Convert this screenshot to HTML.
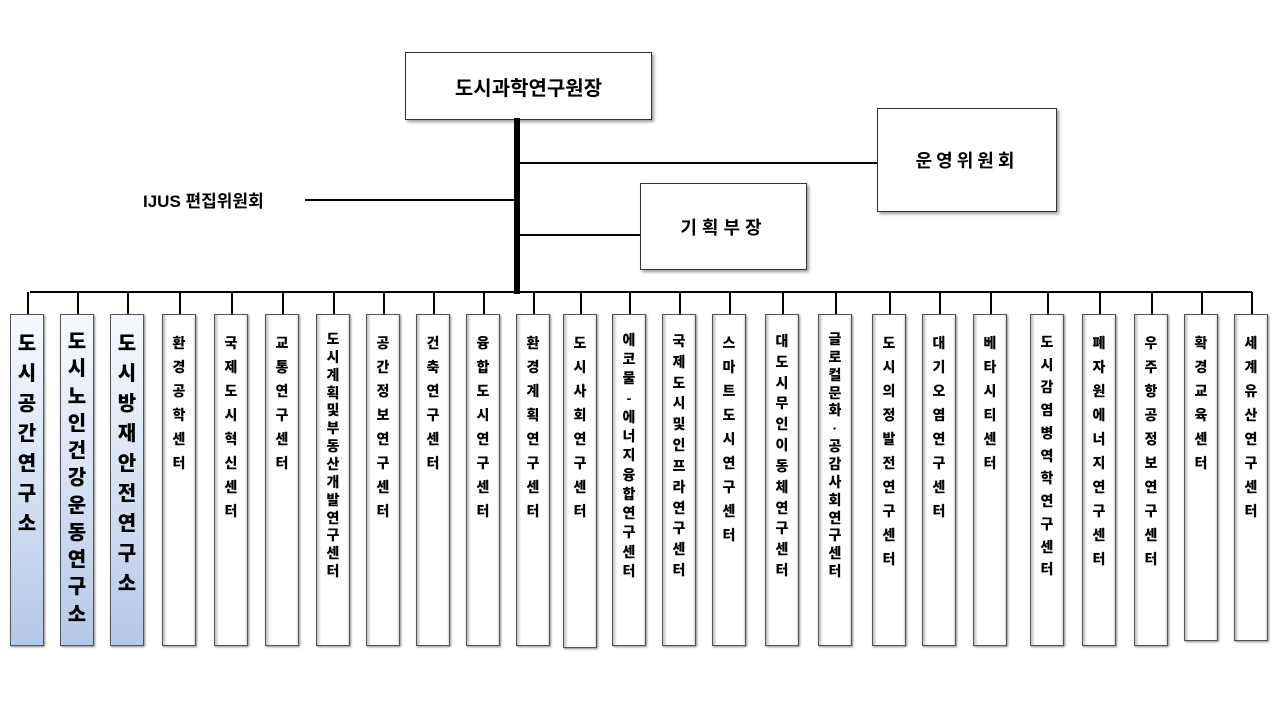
<!DOCTYPE html>
<html><head><meta charset="utf-8"><style>
body{margin:0;width:1280px;height:720px;background:#fff;position:relative;overflow:hidden;font-family:"Liberation Sans","Noto Sans CJK KR",sans-serif;}
.a{position:absolute;}
.l{position:absolute;background:#000;}
.top{position:absolute;border:1px solid #333;background:#fff;box-shadow:2px 2px 3px #999;display:flex;align-items:center;justify-content:center;font-weight:bold;color:#000;}
.b{position:absolute;top:314px;width:34px;border:1px solid #555;background:linear-gradient(90deg,#bbb 0,#fff 4px,#fff 30px,#aaa 34px);box-shadow:1px 1px 2px #888;text-align:center;font-weight:900;font-size:14px;color:#000;padding-top:16px;box-sizing:border-box;}
.b.blue{background:linear-gradient(180deg,#f6f9ff 0,#dde7f6 40%,#b4c8e8 100%);font-size:20px;padding-top:14px;}
</style></head><body>
<div class="top" style="left:405px;top:52px;width:245px;height:66px;font-size:20px;">도시과학연구원장</div>
<div class="top" style="left:877px;top:108px;width:178px;height:102px;font-size:18px;letter-spacing:4px;">운영위원회</div>
<div class="top" style="left:640px;top:183px;width:165px;height:85px;font-size:18px;letter-spacing:5px;">기획부장</div>
<div class="a" style="left:143px;top:187px;font-size:17px;font-weight:bold;">IJUS 편집위원회</div>
<div class="l" style="left:514px;top:118px;width:6px;height:176px;"></div>
<div class="l" style="left:517px;top:162px;width:360px;height:2px;"></div>
<div class="l" style="left:305px;top:199px;width:212px;height:2px;"></div>
<div class="l" style="left:517px;top:234px;width:123px;height:2px;"></div>
<div class="l" style="left:30px;top:291px;width:1222px;height:2px;"></div>
<div id="boxes"></div>
<script>
var d=[[10,"도시공간연구소",646,1],[60,"도시노인건강운동연구소",646,1],[110,"도시방재안전연구소",646,1],
[162,"환경공학센터",646],[214,"국제도시혁신센터",646],[265,"교통연구센터",646],[316,"도시계획및부동산개발연구센터",646],
[366,"공간정보연구센터",646],[416,"건축연구센터",646],[466,"융합도시연구센터",646],[516,"환경계획연구센터",646],
[563,"도시사회연구센터",648],[612,"에코물-에너지융합연구센터",646],[662,"국제도시및인프라연구센터",646],[712,"스마트도시연구센터",646],
[765,"대도시무인이동체연구센터",646],[818,"글로컬문화·공감사회연구센터",646],[872,"도시의정발전연구센터",646],[922,"대기오염연구센터",646],
[973,"베타시티센터",646],[1030,"도시감염병역학연구센터",646],[1082,"폐자원에너지연구센터",646],[1134,"우주항공정보연구센터",646],
[1184,"확경교육센터",641],[1234,"세계유산연구센터",641]];
var h="";
d.forEach(function(x){var n=x[1].length;var lh=x[3]?Math.min(30,300/n):Math.min(24,250/n);
h+='<div class="l" style="left:'+(x[0]+17)+'px;top:292px;width:2px;height:22px"></div>';
h+='<div class="b'+(x[3]?' blue':'')+'" style="left:'+x[0]+'px;height:'+(x[2]-314)+'px;line-height:'+lh+'px">'+x[1].split('').join('<br>')+'</div>';});
document.getElementById("boxes").innerHTML=h;
</script>
</body></html>
